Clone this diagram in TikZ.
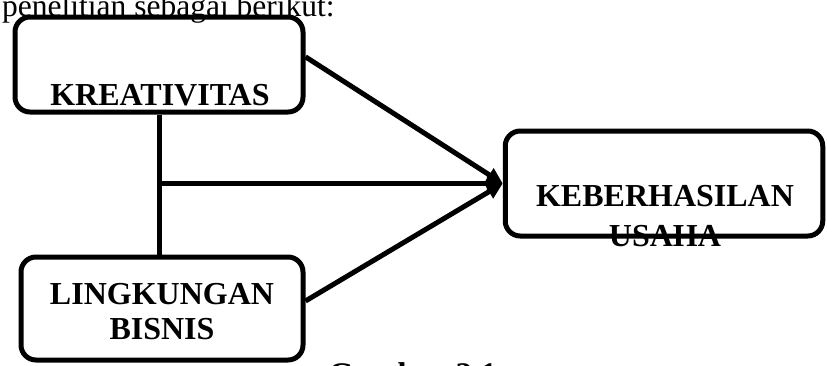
\documentclass[tikz,border=0pt]{standalone}
\usepackage{fontspec}
\setmainfont{Liberation Serif}
\usetikzlibrary{positioning,arrows.meta,calc}
\tikzset{
  varbox/.style={rectangle,rounded corners=15pt,draw=black,line width=5pt,inner sep=0pt},
  vartext/.style={font=\fontsize{32}{35}\selectfont\bfseries,align=center,inner sep=0pt},
  plaintext/.style={font=\fontsize{31.5}{36}\selectfont,inner sep=0pt},
  edge/.style={-{Triangle[length=16pt,width=15pt]},line width=5pt},
  plainline/.style={line width=5pt}
}

\begin{document}
\begin{tikzpicture}[x=1pt,y=-1pt]
  \useasboundingbox (0,0) rectangle (827,365);
  \node[plaintext,anchor=base west] (intro) at (2,16) {penelitian sebagai berikut:};
  % variable boxes
  \node[varbox,minimum width=288pt,minimum height=95pt] (kre) at (159,64.5) {};
  \node[varbox,minimum width=282pt,minimum height=103pt] (lin) at (162,308.5) {};
  \node[varbox,minimum width=317.5pt,minimum height=105pt] (keb) at (664,183.5) {};
  \node[vartext,anchor=north] (kretext) at (160,84) {KREATIVITAS};
  \node[vartext,anchor=north] (lintext) at (162,283) {LINGKUNGAN\\BISNIS};
  \node[vartext,anchor=north,font=\fontsize{32}{40}\selectfont\bfseries] (kebtext) at (665,185) {KEBERHASILAN\\USAHA};
  \node[plaintext,anchor=base west,font=\fontsize{33}{38}\selectfont\bfseries] (caption) at (328,385) {Gambar 2.1};
  % connectors
  \coordinate (junc) at (kre.south |- keb.west);
  \draw[plainline] (kre.south) -- (kre.south |- lin.north);
  \draw[edge] (junc) -- (keb.west);
  \draw[edge] (kre.3) -- (keb.west);
  \draw[edge] (lin.3) -- (keb.west);
\end{tikzpicture}
\end{document}
